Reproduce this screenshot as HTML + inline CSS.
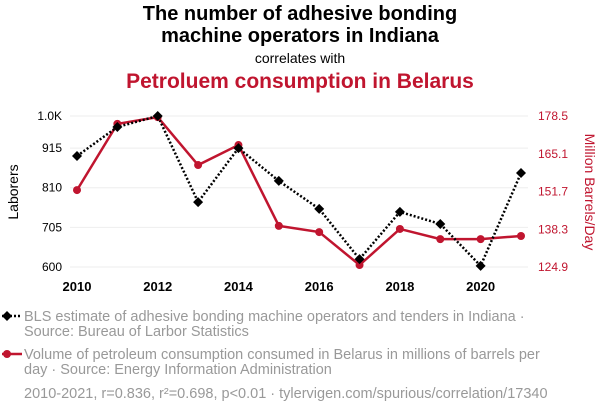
<!DOCTYPE html>
<html><head><meta charset="utf-8"><style>
body{margin:0;background:#fff;font-family:"Liberation Sans",Arial,sans-serif;}
#wrap{position:relative;width:600px;height:414px;overflow:hidden;}
.t{position:absolute;left:0;width:600px;text-align:center;}
</style></head><body>
<div id="wrap">
<div class="t" style="top:3px;font-size:20px;font-weight:bold;line-height:22px;color:#000">The number of adhesive bonding<br>machine operators in Indiana</div>
<div class="t" style="top:50px;font-size:14px;color:#000">correlates with</div>
<div class="t" style="top:70px;font-size:21px;font-weight:bold;color:#c0152f">Petroluem consumption in Belarus</div>
<svg id="svg" width="600" height="414" style="position:absolute;left:0;top:0"></svg>
</div>
<script>
const years=[2010,2011,2012,2013,2014,2015,2016,2017,2018,2019,2020,2021];
const laborers=[894,971,1000,772,915,828,754,621,746,714,603,849];
const petroleum=[152.2,175.7,178.1,161.1,168.2,139.5,137.3,125.6,138.4,134.8,134.8,135.9];
const leftTicks=[600,705,810,915,1000];
const leftTickLabels=["600","705","810","915","1.0K"];
const rightTicks=[124.9,138.3,151.7,165.1,178.5];
const xTicks=[2010,2012,2014,2016,2018,2020];
const NS="http://www.w3.org/2000/svg";
const svg=document.getElementById('svg');
const x=v=>77+(v-2010)*(521-77)/11;
const yl=v=>267-(v-600)*(267-116)/400;
const yr=v=>267-(v-124.9)*(267-116)/(178.5-124.9);
function mk(t,a,txt){const e=document.createElementNS(NS,t);for(const k in a)e.setAttribute(k,a[k]);if(txt!==undefined)e.textContent=txt;svg.appendChild(e);return e;}
leftTicks.forEach((v,i)=>{
const g=mk('line',{x1:70,x2:528,y1:yl(v),y2:yl(v),stroke:'#eee','stroke-width':1});


const t=mk('text',{x:62,y:yl(v)+4,'text-anchor':'end','font-size':12,fill:'#000'},leftTickLabels[i]);


});
rightTicks.forEach(v=>{
const t=mk('text',{x:538,y:yr(v)+4,'font-size':12,fill:'#c0152f'},v.toFixed(1));


});
xTicks.forEach(v=>{
const t=mk('text',{x:x(v),y:291,'text-anchor':'middle','font-size':13,'font-weight':'bold',fill:'#000'},v);


});
const yt=mk('text',{x:18,y:192,'text-anchor':'middle','font-size':14,transform:'rotate(-90 18 192)'},'Laborers');


const yt2=mk('text',{x:585,y:192,'text-anchor':'middle','font-size':14,fill:'#c0152f',transform:'rotate(90 585 192)'},'Million Barrels/Day');


const rl=mk('polyline',{points:years.map((y,i)=>x(y)+','+yr(petroleum[i])).join(' '),fill:'none',stroke:'#c0152f','stroke-width':2.5});


const bl=mk('polyline',{points:years.map((y,i)=>x(y)+','+yl(laborers[i])).join(' '),fill:'none',stroke:'#000','stroke-width':2.5,'stroke-dasharray':'2,2'});


years.forEach((y,i)=>{
const c=mk('circle',{cx:x(y),cy:yr(petroleum[i]),r:4,fill:'#c0152f'});


const cx=x(y),cy=yl(laborers[i]);
const d=mk('polygon',{points:`${cx},${cy-5} ${cx+5},${cy} ${cx},${cy+5} ${cx-5},${cy}`,fill:'#000'});


});
const l1=mk('line',{x1:2,x2:22,y1:316,y2:316,stroke:'#000','stroke-width':2.5,'stroke-dasharray':'2,2'});


const l1d=mk('polygon',{points:'7,311 12,316 7,321 2,316',fill:'#000'});


const l2=mk('line',{x1:2,x2:22,y1:354,y2:354,stroke:'#c0152f','stroke-width':2.5});


const l2c=mk('circle',{cx:7,cy:354,r:4,fill:'#c0152f'});


const lines=[[24,321,'BLS estimate of adhesive bonding machine operators and tenders in Indiana ·','legend-text-laborers'],[24,336,'Source: Bureau of Larbor Statistics','legend-source-laborers'],[24,359,'Volume of petroleum consumption consumed in Belarus in millions of barrels per','legend-text-petroleum'],[24,374,'day · Source: Energy Information Administration','legend-source-petroleum'],[24,398,'2010-2021, r=0.836, r²=0.698, p<0.01 · tylervigen.com/spurious/correlation/17340','footer-note']];
lines.forEach(a=>{
const t=mk('text',{x:a[0],y:a[1],'font-size':14.5,fill:'#999'},a[2]);


});
</script>
</body></html>
